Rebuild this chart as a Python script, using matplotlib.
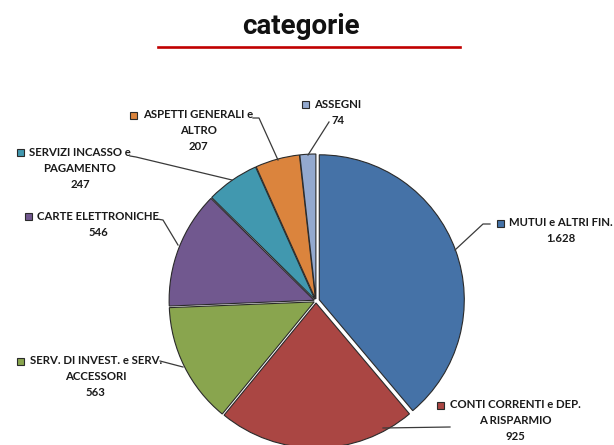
import matplotlib
matplotlib.use("Agg")
import matplotlib.pyplot as plt
from matplotlib.patches import Rectangle
from matplotlib.lines import Line2D

# ---- data ----
categories = ["MUTUI e ALTRI FIN.", "CONTI CORRENTI e DEP. A RISPARMIO",
              "SERV. DI INVEST. e SERV. ACCESSORI", "CARTE ELETTRONICHE",
              "SERVIZI INCASSO e PAGAMENTO", "ASPETTI GENERALI e ALTRO", "ASSEGNI"]
label_lines = [["MUTUI e ALTRI FIN."],
               ["CONTI CORRENTI e DEP.", "A RISPARMIO"],
               ["SERV. DI INVEST. e SERV.", "ACCESSORI"],
               ["CARTE ELETTRONICHE"],
               ["SERVIZI INCASSO e", "PAGAMENTO"],
               ["ASPETTI GENERALI e", "ALTRO"],
               ["ASSEGNI"]]
values = [1628, 925, 563, 546, 247, 207, 74]
value_labels = ["1.628", "925", "563", "546", "247", "207", "74"]
colors = ["#4572A7", "#AA4643", "#89A54E", "#71588F", "#4198AF", "#DB843D", "#93A9CF"]

# ---- layout (pixel coordinates, y from top) ----
W, H = 614, 445
center_px = (316, 301)
radius_px = 145
# text block centre x, first line y
label_pos = [(561, 223), (515, 405), (96, 361), (98, 216),
             (80, 152), (198, 115), (338, 104)]
leaders = [[(455, 250), (483, 224), (490, 224)],
           [(383, 428), (450, 427)],
           [(160, 361), (183, 367)],
           [(157, 219), (163, 220), (178, 245)],
           [(130, 156), (136, 157), (232, 180)],
           [(253, 118), (259, 118), (278, 160)],
           [(329, 122), (308, 155)]]
line_step = 16

fig = plt.figure(figsize=(W / 100, H / 100), dpi=100)
ax = fig.add_axes([0, 0, 1, 1])

def fy(y):
    return H - y

explode = [3.5, 2, 2, 2, 2, 2, 2]
wedges, _ = ax.pie(values, colors=colors, startangle=90, counterclock=False,
                   center=(center_px[0], fy(center_px[1])), radius=radius_px,
                   explode=explode,
                   wedgeprops=dict(edgecolor="#2a2a2a", linewidth=0.8))
ax.set_xlim(0, W)
ax.set_ylim(0, H)
ax.set_aspect("equal")
ax.axis("off")

font = dict(family=["Lato", "DejaVu Sans"], fontweight="bold", fontsize=8.2, color="#1a1a1a")

first_texts = []
for i in range(len(values)):
    cx, y0 = label_pos[i]
    lines = label_lines[i] + [value_labels[i]]
    for k, t in enumerate(lines):
        tx = ax.text(cx, fy(y0 + k * line_step), t, ha="center", va="center", **font)
        if k == 0:
            first_texts.append(tx)
    xs = [p[0] for p in leaders[i]]
    ys = [fy(p[1]) for p in leaders[i]]
    ax.add_line(Line2D(xs, ys, color="#3a3a3a", linewidth=0.9))

fig.canvas.draw()
r = fig.canvas.get_renderer()
for i, tx in enumerate(first_texts):
    bb = tx.get_window_extent(r)
    mx = bb.x0 - 9
    y0 = label_pos[i][1]
    ax.add_patch(Rectangle((mx - 3.5, fy(y0) - 3.5), 7, 7, facecolor=colors[i],
                           edgecolor="#2a2a2a", linewidth=0.8))

# title
fig.text(301 / W, 1 - 27 / H, "categorie", ha="center", va="center",
         family=["Roboto", "DejaVu Sans"], fontweight="bold", fontsize=20, color="#111111")
ax.add_line(Line2D([158, 460], [fy(47), fy(47)], color="#C00000", linewidth=1.9))

fig.savefig("out.png", dpi=100)
